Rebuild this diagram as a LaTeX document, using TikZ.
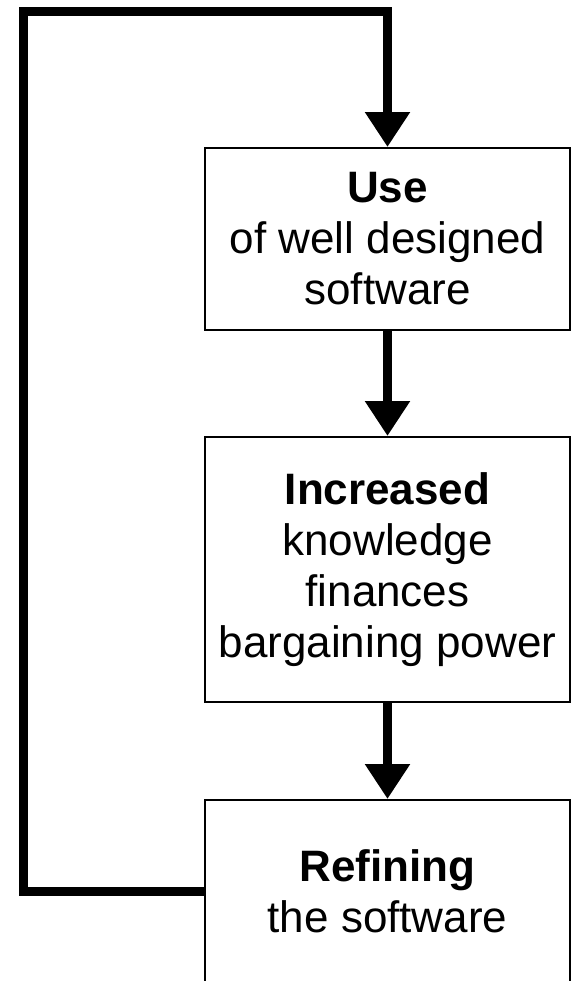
\documentclass[tikz,border=0pt]{standalone}
\usepackage{fontspec}
\setmainfont{Liberation Sans}
\usetikzlibrary{arrows.meta}

\tikzset{
  stage/.style={draw, line width=1pt, align=center, inner sep=0pt,
    minimum width=182.5pt, font=\fontsize{22}{25.5}\selectfont},
  flow/.style={line width=4.5pt, -{Triangle[width=21.5pt,length=17.5pt]}}
}

\begin{document}
\begin{tikzpicture}[x=0.5pt, y=-0.5pt]
                \clip (0,0) rectangle (573,981);
                \node[stage, minimum height=91pt] (use) at (387.5,239)
                  {\textbf{Use}\\of well designed\\software};
                \node[stage, minimum height=132.5pt] (gain) at (387.5,569.5)
                  {\textbf{Increased}\\knowledge\\finances\\bargaining power};
                \node[stage, minimum height=91pt] (refine) at (387.5,891)
                  {\textbf{Refining}\\the software};
                \coordinate (corner) at (23,11);
                \draw[flow] (use) -- (gain);
                \draw[flow] (gain) -- (refine);
                \draw[flow] (refine.west) -| (corner) -| (use.north);
            \end{tikzpicture}
\end{document}
